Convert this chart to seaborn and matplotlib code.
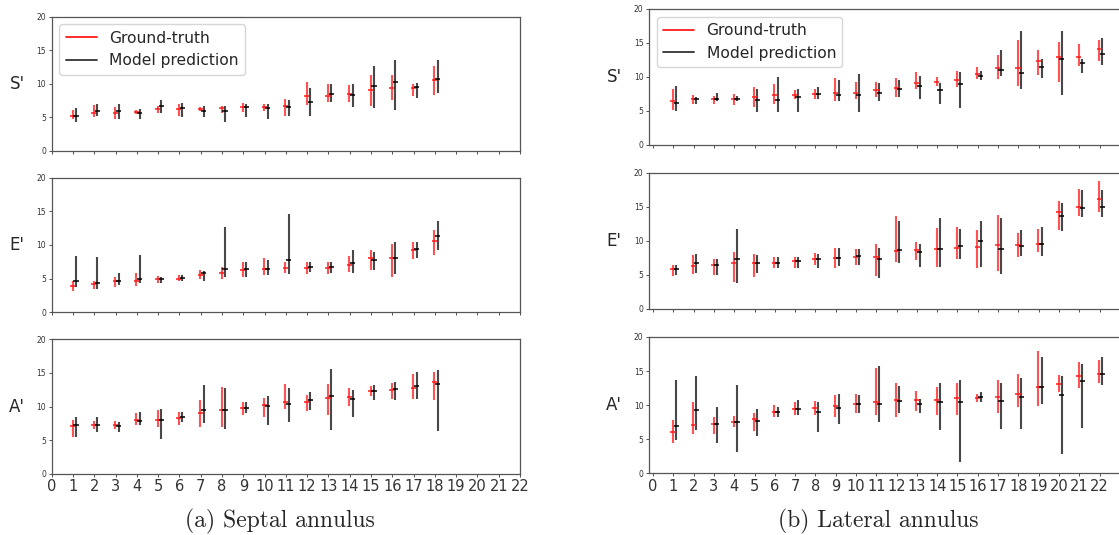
import numpy as np
import pandas as pd
import matplotlib
matplotlib.use("Agg")
import matplotlib.pyplot as plt
import seaborn as sns
from matplotlib.lines import Line2D

# ---------------- data ----------------
sep_groups = list(range(1, 19))
lat_groups = list(range(1, 23))
x_ticks = list(range(0, 23))
row_labels = ["S'", "E'", "A'"]
captions = ["(a) Septal annulus", "(b) Lateral annulus"]
legend_labels = ["Ground-truth", "Model prediction"]

# Septal S'
sep_s_gt = [5.2, 5.7, 5.7, 5.8, 6.2, 6.2, 6.2, 6.3, 6.5, 6.5, 6.6, 8.1, 8.2, 8.4, 9.1, 9.3, 9.4, 10.6]
sep_s_gt_hi = [6.1, 6.8, 6.5, 6.1, 6.7, 6.9, 6.5, 6.7, 7.1, 7.0, 7.7, 10.2, 10.0, 9.8, 11.3, 11.3, 10.0, 12.6]
sep_s_gt_lo = [4.7, 5.1, 4.7, 5.5, 5.7, 5.2, 6.0, 5.7, 5.8, 6.0, 5.2, 6.8, 7.2, 7.2, 6.7, 7.5, 8.2, 8.3]
sep_s_pr = [5.2, 6.0, 5.9, 5.7, 6.6, 6.3, 6.0, 5.9, 6.5, 6.3, 6.5, 7.3, 8.5, 8.3, 9.7, 10.2, 9.5, 10.7]
sep_s_pr_hi = [6.3, 7.0, 6.9, 6.2, 7.6, 7.1, 6.7, 6.7, 7.0, 7.0, 7.6, 9.4, 10.0, 10.0, 12.6, 13.6, 10.1, 13.6]
sep_s_pr_lo = [4.3, 5.2, 4.7, 4.8, 5.6, 5.1, 5.1, 4.3, 5.1, 4.8, 5.2, 5.2, 7.3, 6.5, 6.3, 6.1, 7.8, 8.6]

# Septal E'
sep_e_gt = [3.9, 4.2, 4.6, 4.6, 4.9, 5.0, 5.6, 5.9, 6.3, 6.5, 6.6, 6.6, 6.6, 7.1, 8.1, 8.1, 9.3, 10.6]
sep_e_gt_hi = [4.6, 4.6, 5.2, 5.8, 5.4, 5.5, 6.3, 6.8, 7.4, 8.0, 7.4, 7.4, 7.4, 8.4, 9.3, 10.1, 10.5, 12.3]
sep_e_gt_lo = [3.1, 3.4, 3.7, 3.9, 4.3, 4.6, 4.9, 4.9, 5.2, 5.5, 5.8, 5.7, 5.7, 6.0, 6.3, 5.3, 7.9, 8.5]
sep_e_pr = [4.7, 4.4, 4.7, 4.9, 4.9, 5.1, 5.8, 6.4, 6.4, 6.5, 7.8, 6.7, 6.7, 7.3, 7.8, 8.0, 9.4, 11.4]
sep_e_pr_hi = [8.3, 8.2, 5.9, 8.5, 5.3, 5.6, 6.2, 12.7, 7.4, 7.8, 14.6, 7.5, 7.5, 9.2, 9.0, 10.4, 10.5, 13.6]
sep_e_pr_lo = [3.7, 3.4, 4.1, 4.4, 4.3, 4.7, 4.7, 5.2, 5.3, 5.5, 5.7, 6.0, 5.9, 5.9, 6.3, 5.7, 8.0, 9.2]

# Septal A'
sep_a_gt = [7.1, 7.3, 7.3, 8.0, 8.0, 8.3, 9.0, 9.5, 9.8, 10.2, 10.6, 10.7, 11.2, 11.4, 12.3, 12.5, 12.7, 13.7]
sep_a_gt_hi = [8.0, 7.8, 7.8, 9.1, 9.5, 9.2, 11.0, 12.9, 10.6, 11.2, 13.3, 11.7, 13.3, 12.7, 13.0, 13.5, 14.8, 15.1]
sep_a_gt_lo = [5.4, 6.7, 6.7, 7.2, 7.0, 7.2, 7.0, 7.0, 8.7, 8.5, 9.7, 9.4, 8.7, 10.1, 11.5, 11.1, 11.1, 10.9]
sep_a_pr = [7.3, 7.3, 7.1, 7.9, 8.0, 8.5, 9.5, 9.5, 9.8, 10.1, 10.3, 10.9, 11.5, 11.1, 12.3, 12.6, 13.0, 13.3]
sep_a_pr_hi = [8.5, 8.4, 7.7, 9.2, 9.6, 9.2, 13.2, 12.8, 10.6, 11.5, 12.7, 12.2, 15.6, 12.4, 13.2, 13.7, 15.1, 15.4]
sep_a_pr_lo = [5.5, 6.2, 6.2, 7.2, 5.2, 7.7, 7.5, 6.6, 9.1, 7.2, 7.7, 9.5, 6.5, 8.5, 11.0, 11.0, 11.1, 6.3]

# Lateral S'
lat_s_gt = [6.5, 6.7, 6.7, 6.8, 7.0, 7.3, 7.4, 7.5, 7.6, 7.7, 8.1, 8.4, 9.1, 9.3, 9.5, 10.4, 11.3, 11.3, 12.3, 13.0, 13.0, 14.1]
lat_s_gt_hi = [8.2, 7.4, 7.2, 7.5, 8.5, 9.0, 8.1, 8.3, 9.9, 9.3, 9.2, 9.8, 10.8, 10.0, 10.9, 11.5, 13.2, 15.5, 14.0, 15.2, 14.8, 15.4]
lat_s_gt_lo = [5.2, 6.0, 6.0, 5.9, 5.6, 6.1, 6.7, 6.7, 6.5, 6.8, 7.0, 7.1, 8.3, 8.7, 8.6, 9.7, 9.7, 8.7, 10.3, 9.2, 11.6, 12.4]
lat_s_pr = [6.2, 6.7, 6.8, 6.8, 6.6, 6.6, 7.0, 7.5, 7.3, 7.4, 7.6, 8.2, 8.7, 8.1, 8.9, 10.2, 11.0, 10.6, 11.5, 12.6, 12.1, 13.4]
lat_s_pr_hi = [8.7, 7.1, 7.7, 7.2, 8.2, 10.0, 8.2, 8.5, 9.6, 10.4, 9.1, 9.6, 10.1, 9.1, 10.8, 10.9, 14.0, 16.7, 12.7, 16.7, 12.7, 15.8]
lat_s_pr_lo = [5.0, 6.1, 6.4, 6.4, 4.8, 4.8, 4.8, 6.7, 6.5, 4.8, 6.5, 7.0, 6.7, 6.0, 5.5, 9.6, 10.2, 8.3, 9.8, 7.3, 10.6, 11.7]

# Lateral E'
lat_e_gt = [5.8, 6.3, 6.4, 6.8, 6.8, 6.8, 7.0, 7.4, 7.5, 7.6, 7.6, 8.5, 8.6, 8.8, 9.0, 9.1, 9.4, 9.4, 9.6, 14.2, 15.0, 16.1]
lat_e_gt_hi = [6.5, 7.9, 7.3, 8.3, 8.0, 7.7, 7.7, 8.2, 8.9, 8.8, 9.5, 13.6, 9.8, 11.9, 12.1, 11.6, 13.8, 11.2, 11.7, 15.9, 17.6, 18.8]
lat_e_gt_lo = [4.8, 5.2, 5.0, 3.9, 4.7, 6.0, 6.0, 6.4, 6.0, 6.5, 4.8, 6.9, 7.2, 6.1, 7.3, 6.0, 5.6, 7.7, 8.3, 11.6, 13.6, 14.2]
lat_e_pr = [5.8, 6.7, 6.5, 7.3, 6.8, 6.8, 7.0, 7.3, 7.5, 7.8, 7.4, 8.6, 8.3, 8.8, 9.2, 10.0, 8.8, 9.3, 9.5, 13.7, 14.8, 15.0]
lat_e_pr_hi = [6.5, 8.1, 7.4, 11.7, 7.9, 7.7, 7.7, 8.1, 9.0, 8.8, 9.0, 12.9, 9.6, 13.4, 11.7, 12.9, 13.4, 11.6, 12.0, 15.5, 17.4, 17.5]
lat_e_pr_lo = [5.0, 5.3, 5.0, 3.8, 5.3, 6.0, 6.0, 6.0, 6.3, 6.5, 4.6, 6.8, 6.2, 6.1, 7.3, 6.1, 5.1, 7.8, 7.8, 11.4, 13.5, 13.5]

# Lateral A'
lat_a_gt = [6.0, 7.1, 7.2, 7.6, 7.9, 9.0, 9.4, 9.6, 9.9, 10.2, 10.4, 10.8, 10.8, 10.8, 11.0, 11.1, 11.2, 11.7, 12.6, 13.1, 14.3, 14.6]
lat_a_gt_hi = [7.8, 10.4, 8.3, 8.4, 8.8, 10.0, 10.5, 10.6, 11.5, 11.7, 15.5, 13.3, 12.1, 12.6, 13.2, 11.7, 13.7, 14.6, 18.0, 14.4, 16.3, 16.6]
lat_a_gt_lo = [4.5, 5.7, 5.7, 6.8, 6.2, 8.3, 8.5, 8.6, 8.2, 8.8, 8.6, 8.2, 9.1, 8.6, 8.6, 10.4, 8.8, 9.8, 9.9, 12.0, 12.5, 13.3]
lat_a_pr = [6.9, 9.3, 7.2, 7.5, 7.7, 9.0, 9.4, 9.0, 9.6, 10.1, 10.2, 10.6, 10.1, 10.4, 10.4, 11.2, 10.6, 11.2, 12.6, 11.5, 13.6, 14.6]
lat_a_pr_hi = [13.7, 14.3, 9.7, 12.9, 9.4, 9.8, 10.7, 10.4, 11.6, 11.5, 15.8, 12.8, 10.9, 13.3, 13.7, 12.0, 13.2, 14.0, 17.1, 14.3, 16.1, 17.1]
lat_a_pr_lo = [4.9, 6.4, 4.4, 3.1, 5.5, 8.3, 8.5, 6.0, 7.2, 8.8, 7.6, 8.8, 8.8, 6.3, 1.7, 10.4, 6.5, 6.5, 10.1, 2.9, 6.6, 12.9]

panels = {
    ("sep", 0): (sep_groups, sep_s_gt, sep_s_gt_lo, sep_s_gt_hi, sep_s_pr, sep_s_pr_lo, sep_s_pr_hi),
    ("sep", 1): (sep_groups, sep_e_gt, sep_e_gt_lo, sep_e_gt_hi, sep_e_pr, sep_e_pr_lo, sep_e_pr_hi),
    ("sep", 2): (sep_groups, sep_a_gt, sep_a_gt_lo, sep_a_gt_hi, sep_a_pr, sep_a_pr_lo, sep_a_pr_hi),
    ("lat", 0): (lat_groups, lat_s_gt, lat_s_gt_lo, lat_s_gt_hi, lat_s_pr, lat_s_pr_lo, lat_s_pr_hi),
    ("lat", 1): (lat_groups, lat_e_gt, lat_e_gt_lo, lat_e_gt_hi, lat_e_pr, lat_e_pr_lo, lat_e_pr_hi),
    ("lat", 2): (lat_groups, lat_a_gt, lat_a_gt_lo, lat_a_gt_hi, lat_a_pr, lat_a_pr_lo, lat_a_pr_hi),
}

# ---------------- style ----------------
sns.set_style("ticks")
plt.rcParams["font.family"] = ["DejaVu Sans"]

W, H = 1119, 535
fig = plt.figure(figsize=(W / 100, H / 100), dpi=100)

def frac(x0, y_top, x1, y_bot):
    return [x0 / W, 1 - y_bot / H, (x1 - x0) / W, (y_bot - y_top) / H]

boxes = {
    ("sep", 0): frac(51.7, 16.7, 520, 150.7),
    ("sep", 1): frac(51.7, 177.7, 520, 312.3),
    ("sep", 2): frac(51.7, 339.3, 520, 473.7),
    ("lat", 0): frac(649, 9, 1130, 145),
    ("lat", 1): frac(649, 172.7, 1130, 309),
    ("lat", 2): frac(649, 337, 1130, 473.3),
}
xlims = {"sep": (0, 22), "lat": (-0.2, 23.5)}

RED = "#ff1a1a"
BLK = "#1a1a1a"
spine_col = "#555555"

for (side, row), (grp, gt, gtlo, gthi, pr, prlo, prhi) in panels.items():
    ax = fig.add_axes(boxes[(side, row)])
    g = np.asarray(grp, dtype=float)
    df = pd.DataFrame({
        "x": np.concatenate([g - 0.02, g + 0.14]),
        "y": np.concatenate([gt, pr]),
        "src": [legend_labels[0]] * len(g) + [legend_labels[1]] * len(g),
    })
    ax.vlines(g - 0.02, gtlo, gthi, color=RED, alpha=0.75, lw=1.5, zorder=2)
    ax.vlines(g + 0.14, prlo, prhi, color=BLK, alpha=0.8, lw=1.5, zorder=3)
    sns.scatterplot(data=df, x="x", y="y", hue="src", palette=[RED, "black"],
                    marker="_", s=14, linewidth=1.1, legend=False, ax=ax, zorder=4)
    ax.set_xlim(*xlims[side])
    ax.set_ylim(0, 20)
    ax.set_yticks([0, 5, 10, 15, 20])
    ax.set_xticks(x_ticks)
    ax.tick_params(axis="y", labelsize=5.5, length=2.5, width=0.6, pad=1.5, colors="#333333")
    ax.tick_params(axis="x", labelsize=10.5, length=2.5, width=0.6, pad=1.5, colors="#333333")
    if row < 2:
        ax.set_xticklabels([])
    ax.set_xlabel("")
    ax.set_ylabel(row_labels[row], fontsize=12, rotation=0, labelpad=14, va="center")
    for s in ax.spines.values():
        s.set_color(spine_col)
        s.set_linewidth(0.9)
    if row == 0:
        handles = [Line2D([0], [0], color=RED, lw=1.3),
                   Line2D([0], [0], color="#333333", lw=1.3)]
        ax.legend(handles, legend_labels, loc="upper left", fontsize=11.2,
                  frameon=True, borderaxespad=0.5, handlelength=2.0)

fig.text(280 / W, 1 - 521 / H, captions[0], family="cmr10", fontsize=17,
         ha="center", va="center")
fig.text(878 / W, 1 - 521 / H, captions[1], family="cmr10", fontsize=17,
         ha="center", va="center")

fig.savefig("out.png", dpi=100)
